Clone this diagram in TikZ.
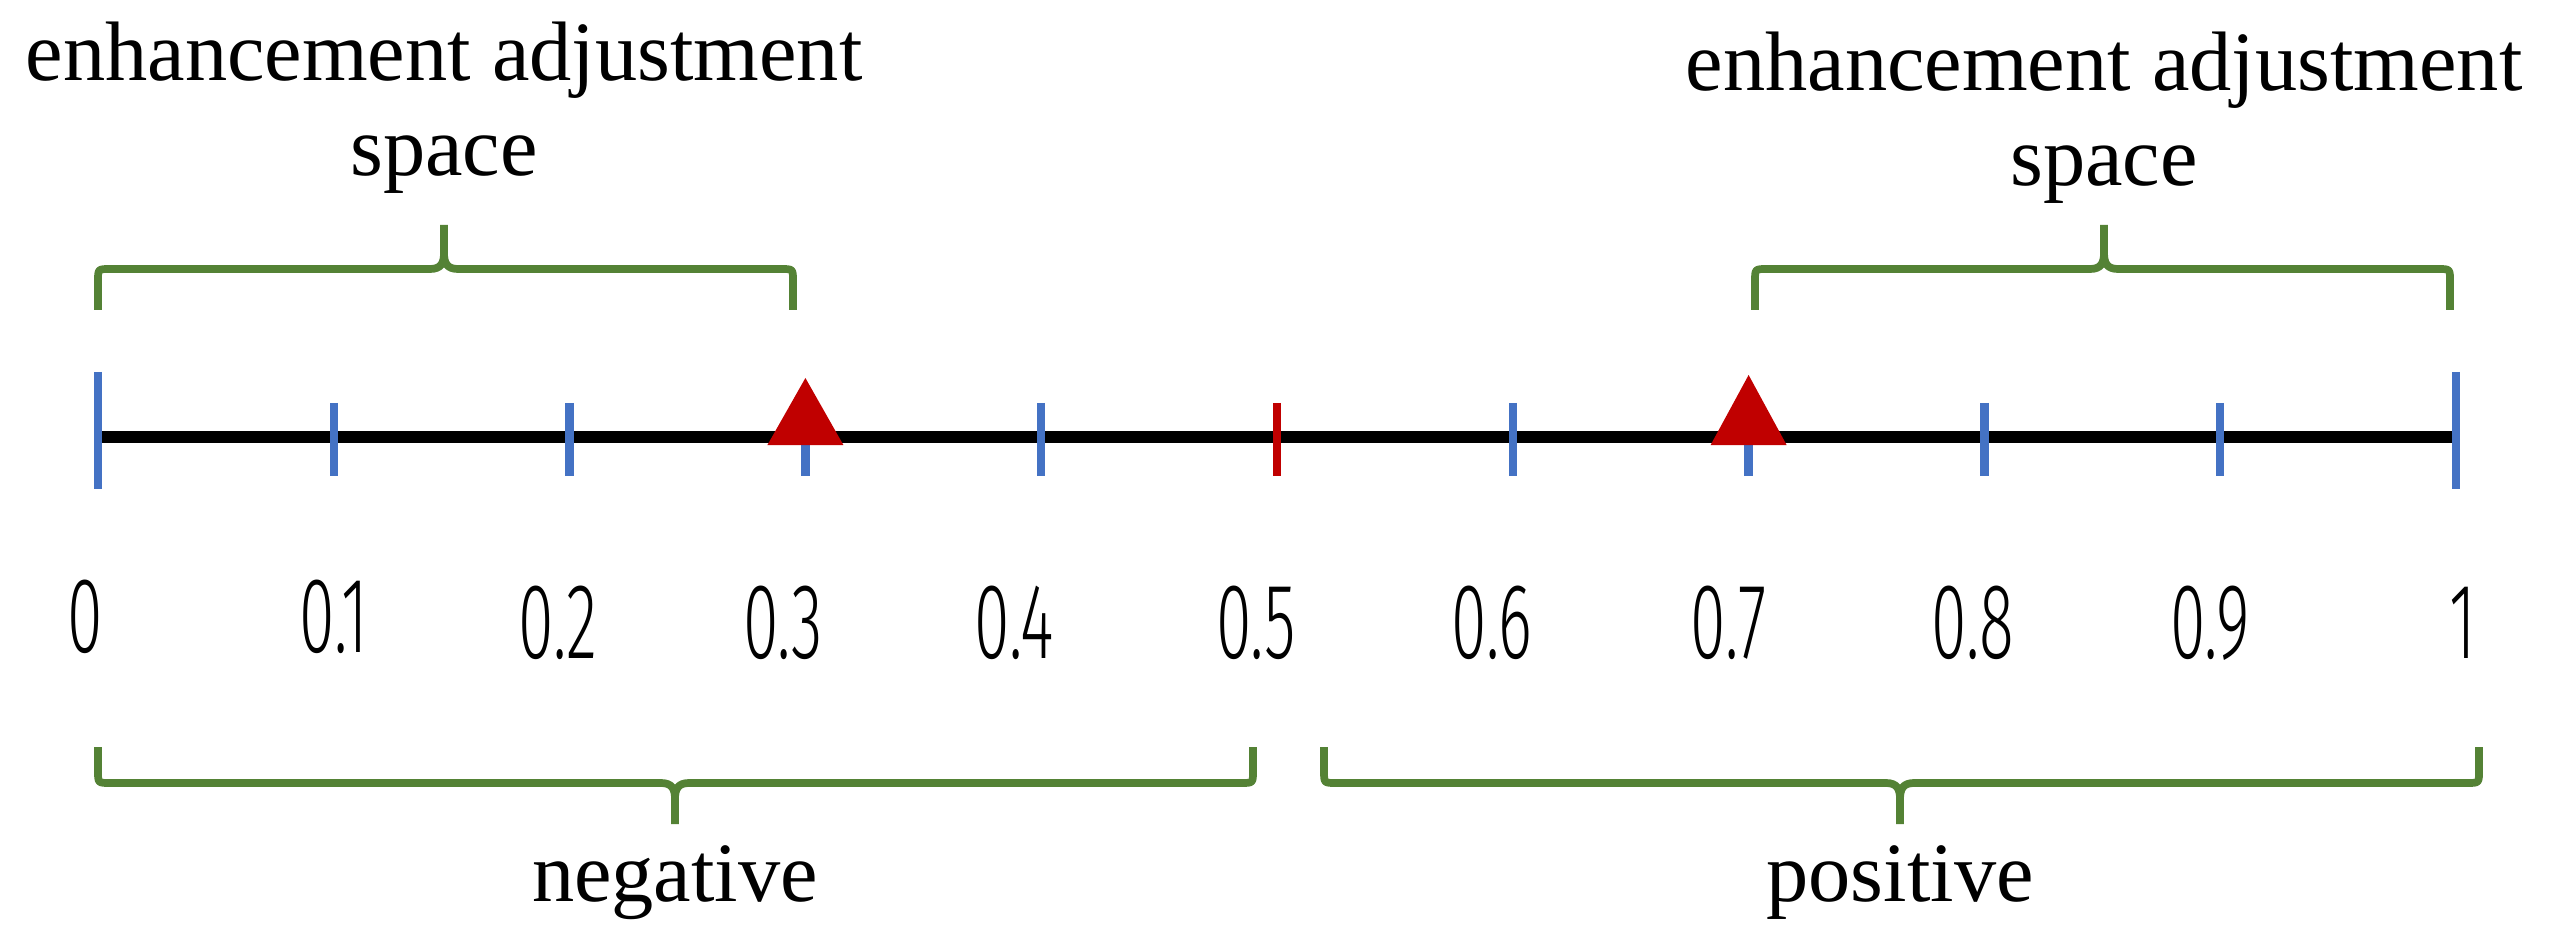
\documentclass[tikz,border=0pt]{standalone}
\usepackage{fontspec}
\setmainfont{Liberation Serif}
\newfontfamily\numfont[FakeStretch=0.6]{Fira Sans Light}
\usetikzlibrary{calc}
\definecolor{tickblue}{HTML}{4472C4}
\definecolor{tickred}{HTML}{C00000}
\definecolor{bracegreen}{HTML}{548235}
\tikzset{
  axisline/.style={line width=3.6pt, black},
  tickline/.style={line width=2.4pt, tickblue},
  midtick/.style={line width=2.4pt, tickred},
  marker/.style={fill=tickred},
  bracestyle/.style={line width=2.2pt, bracegreen, line join=round},
  numlab/.style={font=\numfont\fontsize{30.5}{32}\selectfont, inner sep=0pt},
  txtlab/.style={font=\fontsize{24}{27}\selectfont, align=center, inner sep=0pt},
}
\newcommand\bracepath[7]{%
  \draw[bracestyle] (#1,#4) -- (#1,{#5+12*#7}) .. controls (#1,#5) .. ({#1+12},#5)
     -- ({#3-14},#5) .. controls ({#3-3},#5) and (#3,{#5-6*#7}) .. (#3,{#5-16*#7}) -- (#3,#6);
  \draw[bracestyle] (#2,#4) -- (#2,{#5+12*#7}) .. controls (#2,#5) .. ({#2-12},#5)
     -- ({#3+14},#5) .. controls ({#3+3},#5) and (#3,{#5-6*#7}) .. (#3,{#5-16*#7});
}
\begin{document}
\begin{tikzpicture}[x=0.01cm,y=-0.01cm]
\useasboundingbox (0,0) rectangle (2558,943);
\foreach \i in {0,...,10} \coordinate (t\i) at ({98+235.8*\i},437);
% axis
\draw[axisline] (t0) -- (t10);
% ticks
\draw[tickline] ($(t0)+(0,-65)$) -- ($(t0)+(0,52)$);
\draw[tickline] ($(t10)+(0,-65)$) -- ($(t10)+(0,52)$);
\foreach \i in {1,2,3,4,6,7,8,9}
  \draw[tickline] ($(t\i)+(0,-34)$) -- ($(t\i)+(0,39)$);
\draw[midtick] ($(t5)+(0,-34)$) -- ($(t5)+(0,39)$);
% triangles
\fill[marker] ($(t3)+(0,-59)$) -- ($(t3)+(-38,8)$) -- ($(t3)+(38,8)$) -- cycle;
\fill[marker] ($(t7)+(0,-62)$) -- ($(t7)+(-38,8)$) -- ($(t7)+(38,8)$) -- cycle;
% braces
\bracepath{98}{793}{444}{310}{269}{225}{1}
\bracepath{1755}{2450}{2104}{310}{269}{225}{1}
\bracepath{98}{1253}{675}{747}{783}{824}{-1}
\bracepath{1324}{2479}{1900}{747}{783}{824}{-1}
% texts
\node[txtlab] (tl) at (444,108) {enhancement adjustment\\space};
\node[txtlab] (tr) at (2104,118) {enhancement adjustment\\space};
\node[txtlab] (neg) at (675,883) {negative};
\node[txtlab] (pos) at (1900,883) {positive};
% numbers
\node[numlab] (l0) at (85,617) {0};
\node[numlab] (l1) at (334,617) {0.1};
\node[numlab] (l2) at (558,623) {0.2};
\node[numlab] (l3) at (783,623) {0.3};
\node[numlab] (l4) at (1014,623) {0.4};
\node[numlab] (l5) at (1256,623) {0.5};
\node[numlab] (l6) at (1492,623) {0.6};
\node[numlab] (l7) at (1729,623) {0.7};
\node[numlab] (l8) at (1973,623) {0.8};
\node[numlab] (l9) at (2210,623) {0.9};
\node[numlab] (l10) at (2463,623) {1};
\end{tikzpicture}
\end{document}
